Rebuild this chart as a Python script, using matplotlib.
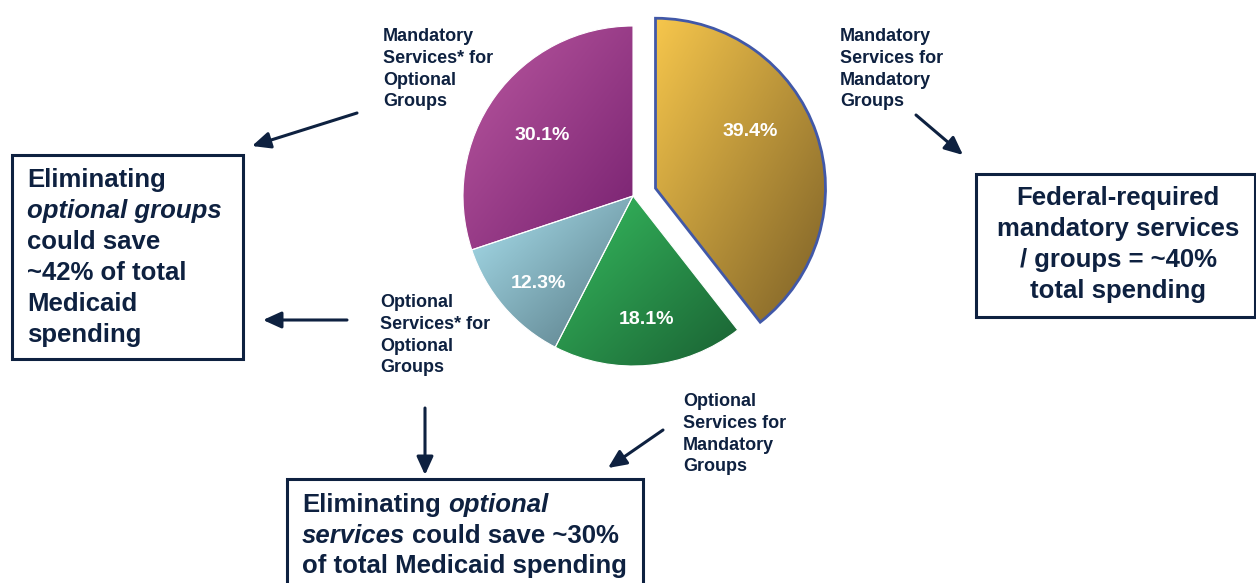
import numpy as np
import matplotlib
matplotlib.use('Agg')
import matplotlib.pyplot as plt
from matplotlib.colors import LinearSegmentedColormap
from matplotlib.patches import Rectangle

plt.rcParams['font.family'] = ['Liberation Sans', 'DejaVu Sans']
plt.rcParams['font.weight'] = 'bold'

W, H = 1256, 583
navy = '#0e2140'
R = 170

# pie data: clockwise from 12 o'clock
shares = [39.4, 18.1, 12.3, 30.1]
slice_names = ['Mandatory\nServices for\nMandatory\nGroups',
               'Optional\nServices for\nMandatory\nGroups',
               'Optional\nServices* for\nOptional\nGroups',
               'Mandatory\nServices* for\nOptional\nGroups']
light = ['#f6c64c', '#36bc5f', '#aae1ef', '#ba58a0']
dark = ['#7c6027', '#1a6133', '#567883', '#772170']
explode = [0.14, 0, 0, 0]

# where the slice names and percent labels sit (image pixels, y down)
name_pos = [(840, 41), (683, 406), (380, 307), (383, 41)]
pct_pos = [(750, 132), (647, 320), (538, 283), (542, 135)]

box_left = ['Eliminating', 'optional groups', 'could save', '~42% of total', 'Medicaid', 'spending']
box_right = ['Federal-required', 'mandatory services', '/ groups = ~40%', 'total spending']

fig = plt.figure(figsize=(W / 100, H / 100), dpi=100)
ax = fig.add_axes([0, 0, 1, 1])

# pie explode is in data units, so scale it by the radius
wedges, _, autotexts = ax.pie(shares, explode=[e * R for e in explode], startangle=90,
                              counterclock=False, center=(633, H - 196), radius=R,
                              autopct='%.1f%%',
                              wedgeprops=dict(linewidth=0.8, edgecolor='white'))

# linear gradient fill, top-left light to bottom-right dark, clipped to each wedge
gx, gy = np.meshgrid(np.linspace(0, 1, 200), np.linspace(0, 1, 200))
grad = (gx + (1 - gy)) / 2
for w, c0, c1 in zip(wedges, light, dark):
    bb = w.get_path().get_extents()
    cm = LinearSegmentedColormap.from_list('g', [c0, c1])
    im = ax.imshow(grad, cmap=cm, origin='lower', extent=(bb.x0, bb.x1, bb.y0, bb.y1),
                   zorder=0.9, interpolation='bilinear')
    im.set_clip_path(w)
    w.set_facecolor('none')
wedges[0].set_edgecolor('#4158a8')
wedges[0].set_linewidth(2.0)
wedges[0].set_zorder(2)

for t, (x, y) in zip(autotexts, pct_pos):
    t.set_position((x, H - y))
    t.set_color('white')
    t.set_fontsize(14)
    t.set_fontweight('bold')
    t.set_va('center')
    t.set_ha('center')

# slice names
for name, (x, y) in zip(slice_names, name_pos):
    for i, line in enumerate(name.split('\n')):
        ax.text(x, H - (y + i * 21.8), line, fontsize=13, color=navy, va='baseline', ha='left')

# boxes
for x0, y0, x1, y1 in [(12, 155, 243, 359), (976, 174, 1255, 317), (287, 479, 643, 600)]:
    ax.add_patch(Rectangle((x0, H - y1), x1 - x0, y1 - y0, fill=False, edgecolor=navy,
                           linewidth=2.2, zorder=3))

for i, line in enumerate(box_left):
    ax.text(27, H - (187 + i * 31), line, fontsize=18.5, color=navy, va='baseline', ha='left',
            style='italic' if i == 1 else 'normal')

for i, line in enumerate(box_right):
    ax.text(1118, H - (205 + i * 31), line, fontsize=18.5, color=navy, va='baseline', ha='center')

t1 = ax.text(302, H - 512, 'Eliminating', fontsize=18.5, color=navy, va='baseline', ha='left')
ax.annotate('optional', xy=(1, 0), xycoords=t1, xytext=(5.1, 0), textcoords='offset points',
            fontsize=18.5, color=navy, va='bottom', ha='left', style='italic')
t2 = ax.text(302, H - 543, 'services', fontsize=18.5, color=navy, va='baseline', ha='left',
             style='italic')
ax.annotate('could save ~30%', xy=(1, 0), xycoords=t2, xytext=(5.1, 0), textcoords='offset points',
            fontsize=18.5, color=navy, va='bottom', ha='left')
ax.text(302, H - 573, 'of total Medicaid spending', fontsize=18.5, color=navy, va='baseline', ha='left')

# arrows (start -> tip)
arrows = [((357, 113), (252, 146)), ((347, 320), (263, 320)), ((425, 408), (425, 475)),
          ((663, 430), (608, 468)), ((916, 115), (963, 155))]
for (sx, sy), (ex, ey) in arrows:
    ax.annotate('', xy=(ex, H - ey), xytext=(sx, H - sy),
                arrowprops=dict(arrowstyle='-|>,head_length=0.55,head_width=0.25', lw=2.2,
                                color=navy, mutation_scale=20, shrinkA=0, shrinkB=0))

ax.set_xlim(0, W)
ax.set_ylim(0, H)
ax.set_aspect('equal')
ax.axis('off')

fig.savefig('out.png', dpi=100)
